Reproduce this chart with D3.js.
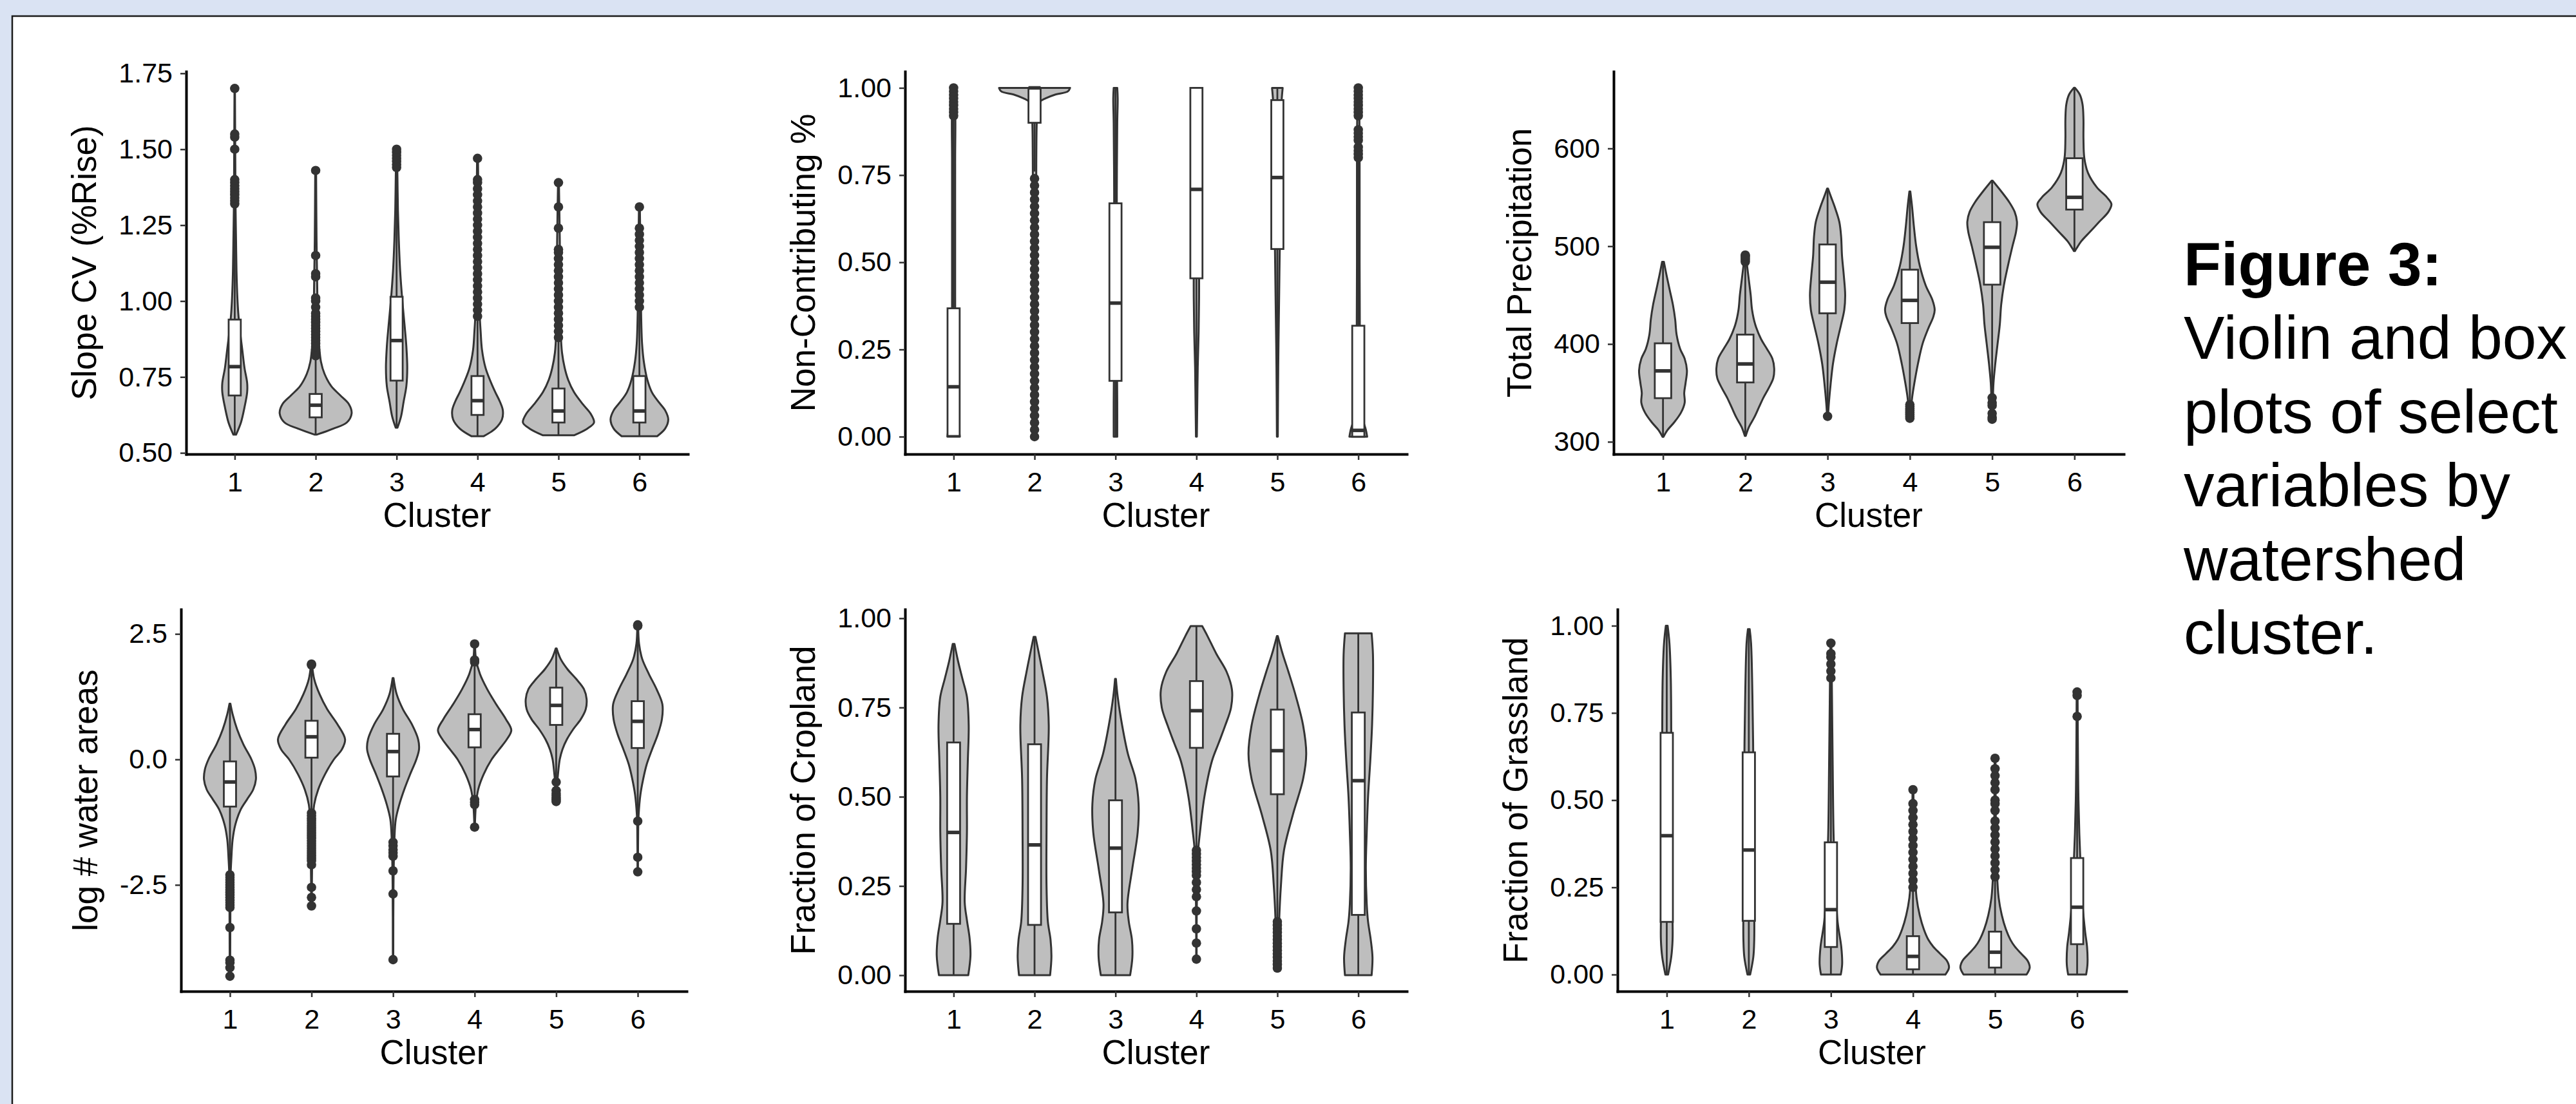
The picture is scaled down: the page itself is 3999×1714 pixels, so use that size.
<!DOCTYPE html>
<html>
<head>
<meta charset="utf-8">
<script src="https://cdn.jsdelivr.net/npm/d3@7"></script>
<style>
  body { margin: 0; background: #dae3f3; }
  svg { display: block; }
</style>
</head>
<body>
<div id="chart"></div>
<script>
// Violin + box plots of watershed variables by cluster (6 panels)

var clusters = ["1", "2", "3", "4", "5", "6"];

// box stats per cluster: [whisker low, q1, median, q3, whisker high]
// violin profiles per cluster: [value, relative half width]

// --- Slope CV (%Rise)
var slopeBox = [
  [0.56, 0.689, 0.784, 0.939, 1.31],
  [0.56, 0.617, 0.657, 0.694, 0.81],
  [0.583, 0.738, 0.870, 1.014, 1.43],
  [0.554, 0.625, 0.672, 0.753, 0.94],
  [0.558, 0.600, 0.638, 0.712, 0.87],
  [0.555, 0.600, 0.638, 0.753, 0.97]
];
var slopeOut = [
  [1.32, 1.33, 1.34, 1.35, 1.36, 1.37, 1.38, 1.39, 1.40, 1.50, 1.54, 1.55, 1.70],
  [0.82, 0.83, 0.84, 0.85, 0.86, 0.87, 0.88, 0.89, 0.90, 0.91, 0.92, 0.93, 0.94, 0.95, 0.96, 0.98, 1.00, 1.01, 1.08, 1.09, 1.15, 1.43],
  [1.44, 1.45, 1.46, 1.47, 1.48, 1.49, 1.50],
  [0.95, 0.97, 0.99, 1.01, 1.03, 1.05, 1.07, 1.09, 1.11, 1.13, 1.15, 1.17, 1.19, 1.21, 1.23, 1.25, 1.27, 1.29, 1.31, 1.33, 1.35, 1.37, 1.39, 1.40, 1.47],
  [0.88, 0.90, 0.92, 0.94, 0.96, 0.98, 1.00, 1.02, 1.04, 1.06, 1.08, 1.10, 1.12, 1.14, 1.16, 1.17, 1.24, 1.31, 1.39],
  [0.98, 1.00, 1.02, 1.04, 1.06, 1.08, 1.10, 1.12, 1.14, 1.16, 1.18, 1.20, 1.22, 1.24, 1.31]
];
var slopeVio = [
  [[0.56, 3], [0.60, 14], [0.65, 22], [0.70, 28], [0.73, 28], [0.78, 22], [0.84, 17], [0.90, 12], [0.96, 8], [1.01, 6], [1.10, 4], [1.20, 3], [1.30, 2], [1.40, 1.5], [1.70, 0.5]],
  [[0.56, 2], [0.58, 40], [0.60, 70], [0.63, 81], [0.66, 75], [0.69, 55], [0.72, 35], [0.76, 20], [0.80, 12], [0.85, 8], [0.90, 6], [1.00, 4], [1.10, 3], [1.20, 2], [1.43, 1]],
  [[0.583, 2], [0.62, 10], [0.67, 16], [0.72, 22], [0.78, 24], [0.85, 22], [0.92, 18], [1.00, 13], [1.10, 8], [1.20, 5], [1.30, 3], [1.40, 2], [1.50, 1]],
  [[0.555, 14], [0.58, 40], [0.61, 55], [0.64, 57], [0.67, 50], [0.70, 40], [0.74, 28], [0.78, 18], [0.84, 10], [0.90, 7], [0.95, 5], [1.00, 4], [1.20, 3], [1.47, 1]],
  [[0.558, 35], [0.58, 65], [0.60, 80], [0.63, 72], [0.66, 55], [0.70, 35], [0.74, 22], [0.78, 14], [0.83, 8], [0.90, 5], [1.00, 4], [1.20, 3], [1.39, 1]],
  [[0.555, 40], [0.58, 58], [0.61, 65], [0.64, 58], [0.67, 42], [0.70, 28], [0.74, 18], [0.80, 10], [0.86, 6], [0.95, 4], [1.10, 3], [1.31, 1]]
];

// --- Non-Contributing %
var noncBox = [
  [0, 0.002, 0.143, 0.368, 0.915],
  [0.76, 0.90, 1.0, 1.0, 1.0],
  [0, 0.160, 0.383, 0.669, 1.0],
  [0, 0.454, 0.709, 1.0, 1.0],
  [0, 0.538, 0.743, 0.965, 1.0],
  [0, 0.0, 0.018, 0.318, 0.79]
];
var noncOut = [
  [0.92, 0.93, 0.94, 0.95, 0.96, 0.97, 0.98, 0.99, 1.00],
  [0.74, 0.72, 0.70, 0.68, 0.66, 0.64, 0.62, 0.60, 0.58, 0.56, 0.54, 0.52, 0.50, 0.48, 0.46, 0.44, 0.42, 0.40, 0.38,
   0.36, 0.34, 0.32, 0.30, 0.28, 0.26, 0.24, 0.22, 0.20, 0.18, 0.16, 0.14, 0.12, 0.10, 0.08, 0.06, 0.04, 0.02, 0.00],
  [],
  [],
  [],
  [0.80, 0.81, 0.82, 0.83, 0.85, 0.86, 0.87, 0.88, 0.92, 0.93, 0.94, 0.95, 0.96, 0.97, 0.98, 0.99, 1.00]
];
var noncVio = [
  [[0, 14], [0.02, 12], [0.05, 8], [0.10, 5], [0.20, 4], [0.40, 3.5], [0.60, 3.5], [0.80, 3.5], [0.90, 4], [1.0, 3]],
  [[0, 2], [0.5, 3], [0.8, 4], [0.90, 5], [0.94, 7], [0.96, 12], [0.97, 25], [0.98, 45], [0.99, 75], [1.0, 80]],
  [[0, 4], [0.1, 4], [0.3, 3], [0.5, 3], [0.7, 3], [0.9, 4], [0.97, 5], [1.0, 4]],
  [[0, 1], [0.1, 2], [0.2, 3], [0.3, 5], [0.4, 6], [0.5, 6], [0.7, 6], [0.9, 6], [1.0, 7]],
  [[0, 1], [0.2, 2], [0.4, 4], [0.5, 5], [0.6, 6], [0.8, 7], [0.95, 9], [1.0, 12]],
  [[0, 20], [0.02, 17], [0.05, 10], [0.10, 5], [0.20, 4], [0.30, 3.5], [0.50, 3], [0.80, 3], [1.0, 2]]
];

// --- Total Precipitation
var precBox = [
  [305, 344.6, 372.5, 400.7, 484],
  [306, 360.7, 379.6, 409.6, 482],
  [333, 431.4, 463.2, 501.8, 559],
  [340, 421.4, 444.6, 476, 556],
  [350, 460.7, 498.9, 524.6, 567],
  [495, 537.5, 550, 590, 662]
];
var precOut = [
  [],
  [484, 486, 488, 490, 491],
  [326],
  [324, 326, 328, 330, 332, 334, 336, 338],
  [323, 325, 329, 337, 340, 345],
  []
];
var precVio = [
  [[305, 1], [312, 10], [320, 25], [330, 40], [340, 48], [350, 47], [360, 50], [373, 53], [385, 48], [395, 38], [410, 30], [425, 27], [440, 22], [455, 15], [470, 8], [484, 2]],
  [[306, 1], [315, 8], [325, 20], [335, 30], [345, 40], [355, 52], [365, 62], [375, 64], [385, 60], [395, 48], [405, 35], [420, 22], [435, 15], [450, 12], [465, 8], [480, 4], [491, 1]],
  [[326, 1], [340, 3], [360, 7], [380, 12], [400, 20], [420, 30], [435, 37], [450, 39], [470, 36], [490, 32], [510, 30], [525, 26], [540, 16], [550, 8], [559, 1]],
  [[324, 1], [345, 5], [360, 10], [380, 18], [400, 28], [415, 40], [428, 52], [435, 55], [445, 50], [460, 35], [480, 22], [500, 14], [520, 9], [540, 5], [556, 1]],
  [[323, 1], [340, 1.5], [360, 3], [380, 7], [400, 12], [420, 17], [440, 20], [460, 26], [480, 35], [500, 45], [515, 53], [525, 55], [535, 50], [545, 38], [555, 22], [567, 1]],
  [[495, 1], [498, 5], [505, 15], [515, 35], [525, 55], [535, 75], [543, 82], [550, 72], [560, 50], [575, 30], [590, 22], [610, 20], [630, 20], [645, 18], [655, 12], [662, 1]]
];

// --- log # water areas
var waterBox = [
  [-2.25, -0.94, -0.45, -0.04, 1.11],
  [-1.02, 0.035, 0.45, 0.77, 1.85],
  [-1.6, -0.34, 0.156, 0.51, 1.62],
  [-0.75, 0.24, 0.595, 0.9, 1.85],
  [-0.42, 0.687, 1.076, 1.43, 2.21],
  [-1.15, 0.227, 0.758, 1.16, 2.5]
];
var waterOut = [
  [-2.30, -2.35, -2.40, -2.45, -2.50, -2.55, -2.60, -2.65, -2.70, -2.75, -2.80, -2.85, -2.90, -2.95, -3.35, -4.00, -4.05, -4.15, -4.32],
  [1.88, 1.90, -1.07, -1.12, -1.17, -1.22, -1.27, -1.32, -1.37, -1.42, -1.47, -1.52, -1.57, -1.62, -1.67, -1.72, -1.77, -1.82, -1.87, -1.92, -1.97, -2.02, -2.10, -2.55, -2.75, -2.92],
  [-1.65, -1.72, -1.80, -1.86, -1.93, -2.22, -2.68, -3.99],
  [1.94, 1.98, 2.30, -0.80, -0.85, -0.90, -1.35],
  [-0.45, -0.62, -0.68, -0.72, -0.76, -0.80, -0.84],
  [2.66, 2.68, -1.23, -1.95, -2.24]
];
var waterVio = [
  [[-4.32, 0.5], [-3.0, 1], [-2.3, 1.5], [-2.0, 3], [-1.6, 6], [-1.3, 12], [-1.0, 24], [-0.8, 38], [-0.6, 52], [-0.4, 58], [-0.2, 56], [0.0, 48], [0.3, 30], [0.6, 16], [0.9, 6], [1.11, 1]],
  [[-2.92, 0.5], [-2.0, 1.5], [-1.3, 3], [-0.9, 6], [-0.6, 15], [-0.3, 30], [0.0, 50], [0.2, 68], [0.4, 75], [0.7, 58], [1.0, 35], [1.3, 18], [1.6, 6], [1.9, 1]],
  [[-3.99, 0.5], [-2.5, 1], [-1.6, 3], [-1.2, 6], [-0.9, 14], [-0.6, 25], [-0.3, 38], [0.0, 52], [0.2, 58], [0.4, 56], [0.7, 42], [1.0, 22], [1.3, 8], [1.62, 1]],
  [[-1.35, 0.5], [-0.9, 3], [-0.6, 8], [-0.3, 20], [0.0, 38], [0.2, 55], [0.4, 72], [0.58, 82], [0.8, 70], [1.1, 48], [1.4, 28], [1.7, 12], [2.0, 3], [2.3, 1]],
  [[-0.85, 0.5], [-0.5, 2], [-0.3, 4], [0.0, 8], [0.2, 14], [0.4, 24], [0.6, 38], [0.8, 55], [1.0, 66], [1.2, 68], [1.4, 62], [1.6, 45], [1.8, 25], [2.0, 10], [2.21, 1]],
  [[-2.24, 0.5], [-1.4, 1], [-1.1, 2], [-0.7, 6], [-0.4, 12], [-0.1, 20], [0.2, 32], [0.5, 45], [0.8, 54], [1.1, 55], [1.4, 42], [1.7, 25], [2.0, 10], [2.3, 3], [2.66, 1]]
];

// --- Fraction of Cropland
var cropBox = [
  [0, 0.144, 0.40, 0.652, 0.928],
  [0, 0.141, 0.365, 0.647, 0.948],
  [0, 0.176, 0.356, 0.49, 0.83],
  [0.36, 0.637, 0.741, 0.824, 0.978],
  [0.16, 0.507, 0.629, 0.744, 0.95],
  [0, 0.169, 0.545, 0.736, 0.958]
];
var cropOut = [
  [],
  [],
  [],
  [0.35, 0.34, 0.33, 0.32, 0.31, 0.30, 0.29, 0.28, 0.26, 0.24, 0.22, 0.18, 0.13, 0.09, 0.045],
  [0.15, 0.14, 0.13, 0.12, 0.11, 0.10, 0.09, 0.08, 0.07, 0.06, 0.05, 0.04, 0.03, 0.02],
  []
];
var cropVio = [
  [[0, 33], [0.055, 38], [0.104, 36], [0.154, 30], [0.204, 25], [0.30, 28], [0.40, 30], [0.50, 30], [0.60, 32], [0.70, 34], [0.78, 30], [0.83, 20], [0.88, 10], [0.928, 2]],
  [[0, 35], [0.05, 38], [0.10, 36], [0.15, 30], [0.25, 27], [0.40, 27], [0.55, 28], [0.70, 32], [0.78, 28], [0.85, 18], [0.90, 10], [0.948, 2]],
  [[0, 33], [0.05, 38], [0.10, 37], [0.15, 30], [0.20, 27], [0.30, 38], [0.40, 50], [0.48, 52], [0.55, 45], [0.62, 28], [0.70, 15], [0.78, 5], [0.83, 1]],
  [[0.045, 0.5], [0.20, 1], [0.35, 4], [0.40, 8], [0.50, 18], [0.60, 35], [0.65, 50], [0.70, 65], [0.75, 78], [0.80, 80], [0.85, 68], [0.90, 45], [0.95, 25], [0.978, 13]],
  [[0.02, 1], [0.10, 3], [0.15, 4], [0.25, 8], [0.35, 15], [0.45, 35], [0.55, 58], [0.62, 65], [0.70, 58], [0.78, 42], [0.85, 25], [0.90, 12], [0.95, 1]],
  [[0, 30], [0.05, 32], [0.10, 28], [0.15, 22], [0.20, 19], [0.30, 17], [0.40, 19], [0.50, 22], [0.60, 27], [0.70, 31], [0.80, 33], [0.90, 33], [0.958, 30]]
];

// --- Fraction of Grassland
var grassBox = [
  [0, 0.151, 0.398, 0.693, 1.0],
  [0, 0.154, 0.357, 0.637, 0.99],
  [0, 0.079, 0.186, 0.379, 0.83],
  [0, 0.015, 0.052, 0.11, 0.245],
  [0, 0.02, 0.064, 0.123, 0.275],
  [0, 0.087, 0.193, 0.334, 0.72]
];
var grassOut = [
  [],
  [],
  [0.85, 0.87, 0.89, 0.91, 0.92, 0.95],
  [0.25, 0.27, 0.29, 0.31, 0.33, 0.35, 0.37, 0.39, 0.41, 0.43, 0.45, 0.47, 0.49, 0.53],
  [0.28, 0.30, 0.32, 0.34, 0.36, 0.38, 0.40, 0.42, 0.44, 0.47, 0.49, 0.50, 0.53, 0.55, 0.57, 0.59, 0.62],
  [0.74, 0.80, 0.81]
];
var grassVio = [
  [[0, 3], [0.05, 10], [0.10, 13], [0.15, 13], [0.30, 11], [0.50, 10], [0.70, 10], [0.85, 9], [0.95, 6], [1.0, 2]],
  [[0, 3], [0.05, 10], [0.10, 12], [0.20, 12], [0.40, 10], [0.60, 10], [0.80, 8], [0.95, 5], [0.99, 2]],
  [[0, 22], [0.03, 25], [0.08, 23], [0.15, 15], [0.25, 10], [0.40, 6], [0.60, 4], [0.85, 2], [0.95, 1]],
  [[0, 72], [0.02, 80], [0.04, 75], [0.06, 60], [0.08, 45], [0.10, 34], [0.13, 24], [0.17, 15], [0.22, 8], [0.30, 4], [0.40, 2], [0.53, 1]],
  [[0, 70], [0.02, 77], [0.04, 72], [0.06, 58], [0.08, 44], [0.10, 34], [0.13, 24], [0.17, 15], [0.22, 8], [0.30, 4], [0.40, 2], [0.62, 1]],
  [[0, 20], [0.03, 23], [0.08, 22], [0.12, 18], [0.20, 12], [0.30, 8], [0.40, 5], [0.50, 3], [0.60, 2], [0.81, 1]]
];

var ticks01 = [0, 0.25, 0.5, 0.75, 1];
var captionLines = ["Violin and box", "plots of select", "variables by", "watershed", "cluster."];

var FONT = "'Liberation Sans', Arial, Helvetica, sans-serif";
var width = 3999, height = 1714;

var svg = d3.select("#chart").append("svg")
  .attr("width", width)
  .attr("height", height);

svg.append("rect")
  .attr("width", width).attr("height", height)
  .attr("fill", "#dae3f3");

// white poster frame
svg.append("rect")
  .attr("x", 19).attr("y", 25)
  .attr("width", width + 20).attr("height", height + 20)
  .attr("fill", "#fff")
  .attr("stroke", "#1a1a1a")
  .attr("stroke-width", 2.5);

var fmt2 = function(d) { return d.toFixed(2); };

var panels = [
  {title: "Slope CV (%Rise)", x0: 289, x1: 1068, top: 111, bottom: 705, domain: [0.496, 1.756],
   ticks: [0.5, 0.75, 1, 1.25, 1.5, 1.75], fmt: fmt2, box: slopeBox, out: slopeOut, vio: slopeVio, bw: 0.15},
  {title: "Non-Contributing %", x0: 1405, x1: 2184, top: 111, bottom: 705, domain: [-0.05, 1.047],
   ticks: ticks01, fmt: fmt2, box: noncBox, out: noncOut, vio: noncVio, bw: 0.15},
  {title: "Total Precipitation", x0: 2505, x1: 3297, top: 111, bottom: 705, domain: [287.4, 678.7],
   ticks: [300, 400, 500, 600], fmt: function(d) { return d; }, box: precBox, out: precOut, vio: precVio, bw: 0.2},
  {title: "log # water areas", x0: 281, x1: 1066, top: 946, bottom: 1539, domain: [-4.62, 2.99],
   ticks: [-2.5, 0, 2.5], fmt: function(d) { return d.toFixed(1); }, box: waterBox, out: waterOut, vio: waterVio, bw: 0.15},
  {title: "Fraction of Cropland", x0: 1405, x1: 2184, top: 946, bottom: 1539, domain: [-0.045, 1.025],
   ticks: ticks01, fmt: fmt2, box: cropBox, out: cropOut, vio: cropVio, bw: 0.16},
  {title: "Fraction of Grassland", x0: 2511, x1: 3301, top: 946, bottom: 1539, domain: [-0.048, 1.047],
   ticks: ticks01, fmt: fmt2, box: grassBox, out: grassOut, vio: grassVio, bw: 0.15}
];

panels.forEach(drawPanel);

function drawPanel(p) {
  var g = svg.append("g");

  var x = d3.scalePoint().domain(clusters).range([p.x0, p.x1]).padding(0.6);
  var y = d3.scaleLinear().domain(p.domain).range([p.bottom, p.top]);
  var step = x.step();
  var dens = d3.scaleLinear().domain([0, 82]).range([0, 0.45 * step]);
  var bw = p.bw * step;

  clusters.forEach(function(c, i) {
    var cx = x(c);
    var area = d3.area()
      .y(function(d) { return y(d[0]); })
      .x0(function(d) { return cx - dens(d[1]); })
      .x1(function(d) { return cx + dens(d[1]); })
      .curve(d3.curveCatmullRom.alpha(0.5));

    // violin
    g.append("path")
      .datum(p.vio[i])
      .attr("d", area)
      .attr("fill", "#bebebe")
      .attr("stroke", "#333")
      .attr("stroke-width", 3)
      .attr("stroke-linejoin", "round");

    var b = p.box[i];
    // whiskers
    g.append("line")
      .attr("x1", cx).attr("x2", cx)
      .attr("y1", y(b[0])).attr("y2", y(b[1]))
      .attr("stroke", "#333").attr("stroke-width", 2.8);
    g.append("line")
      .attr("x1", cx).attr("x2", cx)
      .attr("y1", y(b[3])).attr("y2", y(b[4]))
      .attr("stroke", "#333").attr("stroke-width", 2.8);
    // box
    g.append("rect")
      .attr("x", cx - bw / 2)
      .attr("y", y(b[3]))
      .attr("width", bw)
      .attr("height", Math.max(0, y(b[1]) - y(b[3])))
      .attr("fill", "#fff")
      .attr("stroke", "#333")
      .attr("stroke-width", 2.8);
    // median
    g.append("line")
      .attr("x1", cx - bw / 2).attr("x2", cx + bw / 2)
      .attr("y1", y(b[2])).attr("y2", y(b[2]))
      .attr("stroke", "#333").attr("stroke-width", 5.5);

    // outliers
    g.selectAll(null)
      .data(p.out[i])
      .enter().append("circle")
      .attr("cx", cx)
      .attr("cy", function(d) { return y(d); })
      .attr("r", 7.3)
      .attr("fill", "#333");
  });

  // axes
  var xAxis = g.append("g")
    .attr("transform", "translate(0," + p.bottom + ")")
    .call(d3.axisBottom(x).tickSize(9).tickSizeOuter(0).tickPadding(18));
  var yAxis = g.append("g")
    .attr("transform", "translate(" + p.x0 + ",0)")
    .call(d3.axisLeft(y).tickValues(p.ticks).tickFormat(p.fmt).tickSize(9).tickSizeOuter(0).tickPadding(12));

  [xAxis, yAxis].forEach(function(a) {
    a.attr("font-size", 43).attr("font-family", FONT);
    a.select(".domain").attr("stroke", "#000").attr("stroke-width", 4).attr("stroke-linecap", "square");
    a.selectAll(".tick line").attr("stroke", "#333").attr("stroke-width", 2.5);
    a.selectAll(".tick text").attr("fill", "#000");
  });

  // y title placed after the widest tick label
  var maxW = 0;
  yAxis.selectAll(".tick text").each(function() {
    maxW = Math.max(maxW, this.getBBox().width);
  });
  var tx = p.x0 - 21 - maxW - 35;
  var ty = (p.top + p.bottom) / 2;
  g.append("text")
    .attr("transform", "translate(" + tx + "," + ty + ") rotate(-90)")
    .attr("text-anchor", "middle")
    .attr("font-family", FONT)
    .attr("font-size", 53)
    .attr("fill", "#000")
    .text(p.title);

  g.append("text")
    .attr("x", (p.x0 + p.x1) / 2)
    .attr("y", p.bottom + 113)
    .attr("text-anchor", "middle")
    .attr("font-family", FONT)
    .attr("font-size", 53)
    .attr("fill", "#000")
    .text("Cluster");
}

// caption on the right
var caption = svg.append("text")
  .attr("font-family", FONT)
  .attr("font-size", 95)
  .attr("fill", "#000");
caption.append("tspan")
  .attr("x", 3390).attr("y", 443)
  .attr("font-weight", "bold")
  .text("Figure 3:");
captionLines.forEach(function(t, i) {
  caption.append("tspan")
    .attr("x", 3390)
    .attr("y", 557 + i * 114.5)
    .text(t);
});
</script>
</body>
</html>
